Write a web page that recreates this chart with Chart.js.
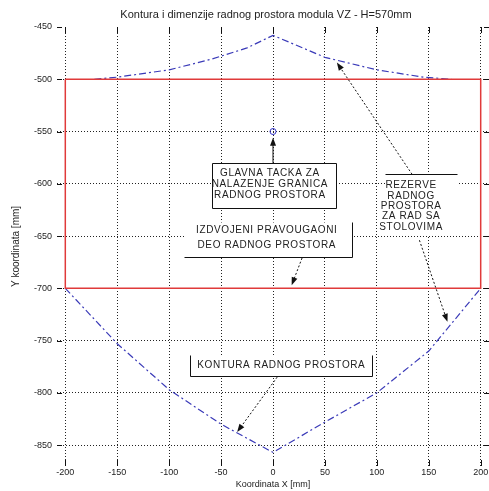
<!DOCTYPE html>
<html><head><meta charset="utf-8">
<script src="https://cdn.jsdelivr.net/npm/chart.js@4.4.0/dist/chart.umd.min.js"></script>
<style>
html,body{margin:0;padding:0;background:#fff;overflow:hidden;width:489px;height:491px}
#wrap{width:540px;height:491px}
</style></head>
<body><div id="wrap"><canvas id="c" width="540" height="491"></canvas></div>
<script>
// ---- data ----
const xTickValues = [-200, -150, -100, -50, 0, 50, 100, 150, 200];
const yTickValues = [-450, -500, -550, -600, -650, -700, -750, -800, -850];
const rectX = [-200, 200, 200, -200, -200];
const rectY = [-500, -500, -700, -700, -500];
const topContourX = [-172, -150, -100, -60, -25, 0, 50, 100, 145, 172];
const topContourY = [-500, -498, -491, -481, -470, -458, -479, -491, -498, -500];
const bottomContourX = [-200, -150, -100, -50, 0, 50, 100, 150, 200];
const bottomContourY = [-700, -753, -797, -830, -857, -828, -800, -760, -700];
const mainPointX = [0];
const mainPointY = [-550];

const titleText = 'Kontura i dimenzije radnog prostora modula VZ - H=570mm';
const xTitle = 'Koordinata X [mm]';
const yTitle = 'Y koordinata [mm]';

const toXY = (xs, ys) => xs.map((v, i) => ({x: v, y: ys[i]}));

// annotation layout (data units)
const notes = [
  {lines: ['GLAVNA TACKA ZA', 'NALAZENJE GRANICA', 'RADNOG PROSTORA'], cx: -3, ys: [-590, -600.5, -610.5],
   box: {x1: -59, x2: 61, y1: -580, y2: -623}, sides: 'tlrb'},
  {lines: ['IZDVOJENI PRAVOUGAONI', 'DEO RADNOG PROSTORA'], cx: -6, ys: [-644.5, -659],
   box: {x1: -86, x2: 76, y1: -637, y2: -670}, sides: 'rb'},
  {lines: ['REZERVE', 'RADNOG', 'PROSTORA', 'ZA RAD SA', 'STOLOVIMA'], cx: 133, ys: [-601.5, -612, -621.5, -631.5, -642],
   box: {x1: 108, x2: 177, y1: -591, y2: -649}, sides: 't'},
  {lines: ['KONTURA RADNOG PROSTORA'], cx: 8, ys: [-774],
   box: {x1: -80, x2: 95, y1: -764, y2: -784}, sides: 'lrb'}
];
const arrows = [
  {from: [0, -580], to: [0, -556], dashed: false},
  {from: [28, -671], to: [18, -697], dashed: true},
  {from: [134, -591], to: [61.5, -484], dashed: true},
  {from: [141, -654], to: [168, -732], dashed: true},
  {from: [4, -785], to: [-34.5, -837.5], dashed: true}
];

const FONT = '"Liberation Sans", Arial, sans-serif';

function drawArrow(ctx, x1, y1, x2, y2, dashed) {
  const ang = Math.atan2(y2 - y1, x2 - x1);
  const hl = 8, hw = 3;
  ctx.save();
  ctx.strokeStyle = '#111';
  ctx.lineWidth = 1;
  ctx.setLineDash(dashed ? [2, 2] : []);
  ctx.beginPath();
  ctx.moveTo(x1, y1);
  ctx.lineTo(x2 - Math.cos(ang) * hl * 0.8, y2 - Math.sin(ang) * hl * 0.8);
  ctx.stroke();
  ctx.setLineDash([]);
  ctx.fillStyle = '#111';
  ctx.beginPath();
  ctx.moveTo(x2, y2);
  ctx.lineTo(x2 - Math.cos(ang) * hl - Math.sin(ang) * hw, y2 - Math.sin(ang) * hl + Math.cos(ang) * hw);
  ctx.lineTo(x2 - Math.cos(ang) * hl + Math.sin(ang) * hw, y2 - Math.sin(ang) * hl - Math.cos(ang) * hw);
  ctx.closePath();
  ctx.fill();
  ctx.restore();
}

const tickMarkPlugin = {
  id: 'tickMarks',
  beforeDatasetsDraw(chart) {
    const {ctx, chartArea: a, scales: {x, y}} = chart;
    ctx.save();
    ctx.strokeStyle = '#111';
    ctx.lineWidth = 1;
    xTickValues.forEach(v => {
      const px = Math.round(x.getPixelForValue(v)) + 0.5;
      ctx.beginPath(); ctx.moveTo(px, a.top); ctx.lineTo(px, a.top + 6); ctx.stroke();
      ctx.beginPath(); ctx.moveTo(px, a.bottom); ctx.lineTo(px, a.bottom - 6); ctx.stroke();
    });
    yTickValues.forEach(v => {
      const py = Math.round(y.getPixelForValue(v)) + 0.5;
      ctx.beginPath(); ctx.moveTo(a.left, py); ctx.lineTo(a.left + 5, py); ctx.stroke();
      ctx.beginPath(); ctx.moveTo(a.right, py); ctx.lineTo(a.right - 5, py); ctx.stroke();
    });
    ctx.restore();
  }
};

const annotationPlugin = {
  id: 'notes',
  afterDatasetsDraw(chart) {
    const {ctx, chartArea: area, scales: {x, y}} = chart;
    const X = v => x.getPixelForValue(v), Y = v => y.getPixelForValue(v);
    // title
    ctx.save();
    ctx.fillStyle = '#222';
    ctx.font = '11px ' + FONT;
    ctx.textAlign = 'center';
    ctx.textBaseline = 'middle';
    ctx.fillText(titleText, (area.left + area.right) / 2 - 7, 15);
    ctx.restore();
    notes.forEach(n => {
      const l = Math.round(X(n.box.x1)) + 0.5, r = Math.round(X(n.box.x2)) + 0.5;
      const t = Math.round(Y(n.box.y1)) + 0.5, b = Math.round(Y(n.box.y2)) + 0.5;
      ctx.save();
      ctx.fillStyle = '#fff';
      ctx.fillRect(l, t, r - l, b - t);
      ctx.strokeStyle = '#111';
      ctx.lineWidth = 1;
      ctx.beginPath();
      if (n.sides.includes('t')) { ctx.moveTo(l, t); ctx.lineTo(r, t); }
      if (n.sides.includes('b')) { ctx.moveTo(l, b); ctx.lineTo(r, b); }
      if (n.sides.includes('l')) { ctx.moveTo(l, t); ctx.lineTo(l, b); }
      if (n.sides.includes('r')) { ctx.moveTo(r, t); ctx.lineTo(r, b); }
      ctx.stroke();
      ctx.fillStyle = '#222';
      ctx.font = '10px ' + FONT;
      try { ctx.letterSpacing = '0.6px'; } catch (e) {}
      ctx.textAlign = 'center';
      ctx.textBaseline = 'middle';
      n.lines.forEach((s, i) => ctx.fillText(s, X(n.cx), Y(n.ys[i])));
      ctx.restore();
    });
    arrows.forEach(a => drawArrow(ctx, X(a.from[0]), Y(a.from[1]), X(a.to[0]), Y(a.to[1]), a.dashed));
  }
};

const gridColor = (skip) => (c) => (c.tick && c.tick.value === skip) ? 'rgba(0,0,0,0)' : '#222';

new Chart(document.getElementById('c'), {
  type: 'scatter',
  data: {
    datasets: [
      {data: toXY(rectX, rectY), showLine: true, borderColor: '#e03a3a', borderWidth: 1.5, pointRadius: 0, tension: 0},
      {data: toXY(topContourX, topContourY), showLine: true, borderColor: '#3a3ab8', borderWidth: 1.2,
       borderDash: [7, 3, 2, 3], pointRadius: 0, tension: 0},
      {data: toXY(bottomContourX, bottomContourY), showLine: true, borderColor: '#3a3ab8', borderWidth: 1.2,
       borderDash: [7, 3, 2, 3], pointRadius: 0, tension: 0},
      {data: toXY(mainPointX, mainPointY), showLine: false, pointRadius: 3, pointBorderColor: '#3434c8',
       pointBackgroundColor: 'rgba(0,0,0,0)', pointBorderWidth: 1}
    ]
  },
  options: {
    responsive: false,
    animation: false,
    devicePixelRatio: 1,
    layout: {padding: {left: 0, right: 51, top: 27, bottom: 0}},
    plugins: {
      legend: {display: false},
      tooltip: {enabled: false},
      title: {display: false}
    },
    scales: {
      x: {
        type: 'linear', min: -208, max: 208,
        afterBuildTicks: s => { s.ticks = xTickValues.map(v => ({value: v})); },
        afterFit: s => { s.height = 25; },
        grid: {color: '#222', lineWidth: 1, drawTicks: false},
        border: {display: false, dash: [1, 2]},
        ticks: {color: '#222', font: {family: FONT, size: 9}, padding: 1, maxRotation: 0, autoSkip: false,
                callback: v => String(v)},
        title: {display: true, text: xTitle, color: '#222', font: {family: FONT, size: 9}, padding: {top: 0, bottom: 1}}
      },
      y: {
        type: 'linear', min: -870, max: -450,
        afterBuildTicks: s => { s.ticks = yTickValues.map(v => ({value: v})); },
        afterFit: s => { s.width = 57; },
        grid: {color: gridColor(-450), lineWidth: 1, drawTicks: false},
        border: {display: false, dash: [1, 2]},
        ticks: {color: '#222', font: {family: FONT, size: 9}, padding: 5, autoSkip: false,
                callback: v => String(v)},
        title: {display: true, text: yTitle, color: '#222', font: {family: FONT, size: 10}, padding: {top: 10, bottom: 0}}
      }
    }
  },
  plugins: [tickMarkPlugin, annotationPlugin]
});
</script>
</body></html>
